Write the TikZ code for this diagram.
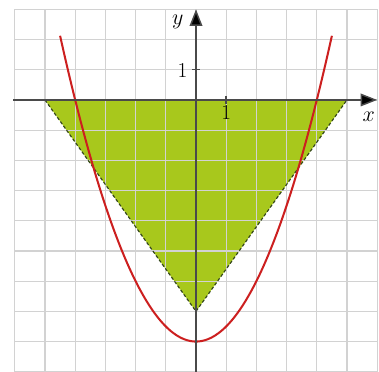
\documentclass[tikz,border=0pt]{standalone}
\usepackage{amsmath,amssymb}
\usepackage{tikz}
\usetikzlibrary{arrows.meta}
\usepackage{xcolor}
\definecolor{plotgreen}{HTML}{A8C81C}
\definecolor{plotedge}{HTML}{34461A}
\definecolor{plotred}{HTML}{CC1F1F}
\definecolor{plotgrid}{HTML}{D2D2D2}
\definecolor{plotaxis}{HTML}{4A4A4A}

\begin{document}
\begin{tikzpicture}[
  gridline/.style={draw=plotgrid,line width=1.1pt},
  axisline/.style={draw=plotaxis,line width=1.4pt},
  edgeline/.style={draw=plotedge,line width=1.1pt,densely dashed},
  curveline/.style={draw=plotred,line width=1.9pt},
  lbl/.style={font=\fontsize{20}{22}\selectfont,inner sep=0pt},
  >={Triangle[length=5.5mm,width=4.2mm,fill=black]}]
\useasboundingbox (-6.49,-9.0) rectangle (6.06,3.31);
% region between the two lines
\fill[plotgreen] (-5,0) -- (5,0) -- (0,-7) -- cycle;
\draw[gridline] (-6,-9) grid (6,3);
\draw[edgeline] (-5,0) -- (0,-7) -- (5,0);
% parabola y = x^2/2 - 8
\draw[curveline,domain=-4.5:4.5,samples=80,smooth] plot (\x,{0.5*\x*\x-8});
% axes
\draw[axisline,->] (-6.05,0) -- (6,0);
\draw[axisline,->] (0,-9) -- (0,3);
\draw[axisline] (-0.12,1) -- (0.12,1);
\draw[axisline] (1,-0.12) -- (1,0.12);
\node[lbl] (xlab) at (5.72,-0.55) {$x$};
\node[lbl] (ylab) at (-0.6,2.6) {$y$};
\node[lbl] (yone) at (-0.45,0.98) {1};
\node[lbl] (xone) at (1,-0.42) {1};
\end{tikzpicture}
\end{document}
